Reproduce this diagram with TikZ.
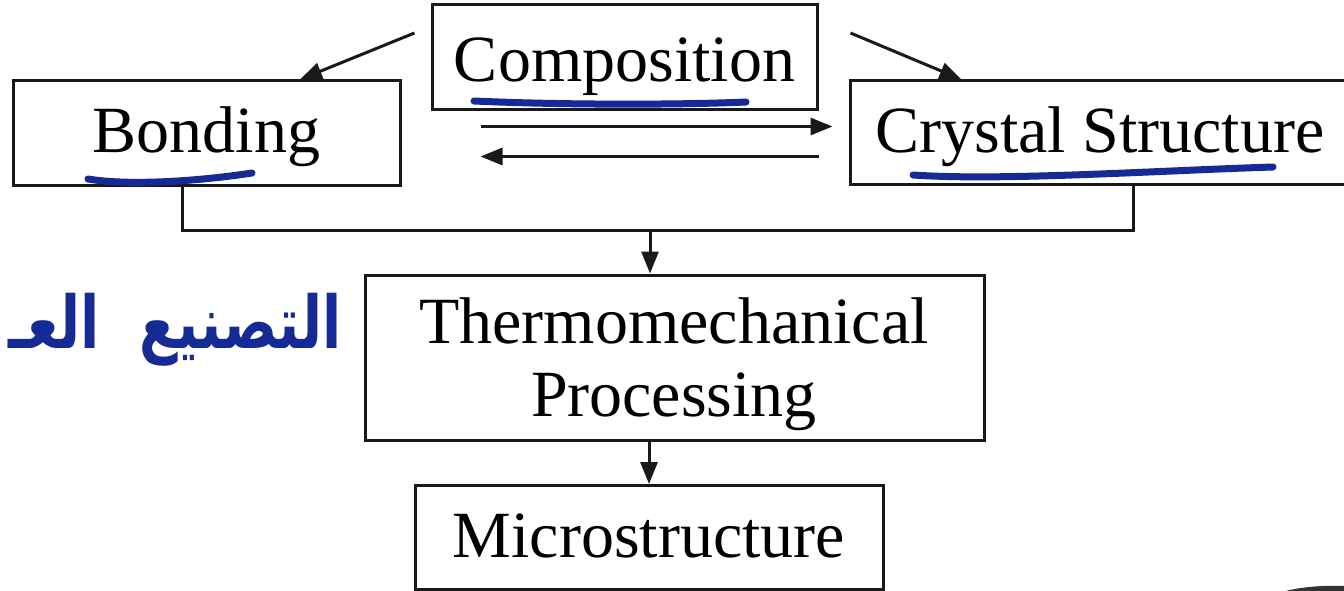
\documentclass[tikz,border=0pt]{standalone}
\usepackage{fontspec}
\setmainfont{Liberation Serif}
\newfontfamily\arabicfont[Script=Arabic]{DejaVu Sans}
\TeXXeTstate=1
\usetikzlibrary{arrows.meta,calc}
\definecolor{pen}{RGB}{22,42,150}
\definecolor{ink}{RGB}{25,25,25}
\begin{document}
\begin{tikzpicture}[x=1pt,y=-1pt,
  box/.style={draw=ink, line width=3pt, inner sep=0pt,
    font=\fontsize{66}{73}\selectfont, text height=46pt, text depth=6pt},
  txt/.style={inner sep=0pt, font=\fontsize{66}{73}\selectfont},
  arr/.style={draw=ink, line width=3pt, -{Triangle[length=22pt,width=17pt]}},
  wire/.style={draw=ink, line width=3pt},
  hand/.style={draw=pen, line width=7pt, line cap=round}]
\useasboundingbox (0,0) rectangle (1344,591);
\fill[white] (0,0) rectangle (1344,591);

\node[box, minimum width=385pt, minimum height=105pt, text height=52pt, text depth=3pt] (comp) at (624.5,57.5) {Composition};
\node[box, minimum width=387pt, minimum height=104pt] (bond) at (206.5,133) {Bonding};
\node[box, minimum width=500pt, minimum height=103pt] (cry) at (1100,132.5) {Crystal Structure};
\node[box, minimum width=619pt, minimum height=165pt] (thermo) at (674.5,357.5) {};
\node[txt, anchor=base] (t1) at (674,343) {Thermomechanical};
\node[txt, anchor=base] (t2) at (674,416) {Processing};
\node[box, minimum width=468pt, minimum height=104pt] (micro) at (649,537.5) {Microstructure};

% arrows from Composition
\draw[arr] ($(comp.west)+(-16,-24.5)$) -- ($(bond.north)+(93.5,0)$);
\draw[arr] ($(comp.east)+(32,-24.5)$) -- ($(cry.north west)+(113,0)$);
% double arrows
\draw[arr] ($(comp.south)+(-144,15)$) -- ($(comp.south)+(208,15)$);
\draw[arr] ($(comp.south)+(194,45)$) -- ($(comp.south)+(-144,45)$);

% joining connector
\coordinate (j) at (650,230);
\draw[wire] ($(bond.south)+(-24.5,0)$) |- (j) -| ($(cry.south)+(33,0)$);
\draw[arr] (j) -- (j |- thermo.north);
\draw[arr] (micro.north |- thermo.south) -- (micro.north);

% handwritten underlines
\draw[hand] (474,101) .. controls (560,105) and (680,105) .. (746,102);
\draw[hand] (88,179) .. controls (130,186) and (200,181) .. (252,173);
\draw[hand] (913,175) .. controls (1000,181) and (1150,171) .. (1273,167);

% handwritten Arabic note
\node[text=pen, inner sep=0pt, anchor=base east, yscale=1.3, transform shape] (ar) at (342,348)
  {\arabicfont\bfseries\fontsize{56}{60}\selectfont\beginR التصنيع\hspace{40pt}العـ\endR};

% dark mark at lower right corner
\fill[black!80] (1286,591) .. controls (1300,587) and (1325,585) .. (1344,586) -- (1344,591) -- cycle;
\end{tikzpicture}
\end{document}
